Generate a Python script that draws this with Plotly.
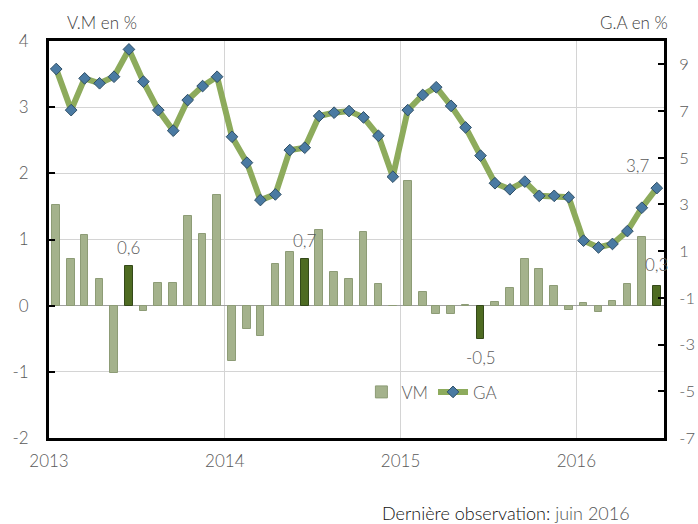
import pandas as pd
import plotly.graph_objects as go

# Monthly series, January 2013 to June 2016
months = pd.date_range("2013-01-01", periods=42, freq="MS") + pd.Timedelta(days=15)

# VM: monthly change (%), left axis
vm = [1.52, 0.70, 1.07, 0.40, -1.01, 0.6, -0.08, 0.35, 0.35, 1.36, 1.08, 1.68,
      -0.84, -0.36, -0.46, 0.63, 0.81, 0.7, 1.15, 0.51, 0.41, 1.12, 0.32, -0.01,
      1.88, 0.21, -0.13, -0.13, 0.01, -0.5, 0.05, 0.26, 0.70, 0.55, 0.29, -0.06,
      0.04, -0.10, 0.07, 0.32, 1.04, 0.3]

# GA: year-on-year change (%), right axis
ga = [8.80, 7.04, 8.40, 8.19, 8.47, 9.64, 8.26, 7.04, 6.16, 7.47, 8.07, 8.47,
      5.90, 4.79, 3.19, 3.43, 5.33, 5.43, 6.79, 6.93, 7.00, 6.73, 5.94, 4.19,
      7.04, 7.69, 8.02, 7.22, 6.30, 5.09, 3.91, 3.65, 3.98, 3.37, 3.37, 3.31,
      1.45, 1.16, 1.31, 1.86, 2.86, 3.7]

left_ticks = [-2, -1, 0, 1, 2, 3, 4]
right_ticks = [-7, -5, -3, -1, 1, 3, 5, 7, 9]
year_ticks = ["2013-01-01", "2014-01-01", "2015-01-01", "2016-01-01"]
year_labels = ["2013", "2014", "2015", "2016"]

LIGHT = "#a4b28c"
DARK = "#4e6b22"
LINE = "#8dab5c"
MARK = "#4a7aa2"
FONT = "Lato"
GREY = "#5a5a5a"

# June observations are highlighted
bar_colors = [DARK if d.month == 6 else LIGHT for d in months]
bar_edges = ["#34491a" if d.month == 6 else "#8d9c76" for d in months]


def fr(v):
    return f"{v:.1f}".replace(".", ",")


def lbl_font():
    return dict(size=17, color=GREY, family=FONT, weight=300)


fig = go.Figure()

fig.add_trace(go.Bar(
    x=months, y=vm, name="VM", yaxis="y",
    width=16 * 86400000,
    marker=dict(color=bar_colors, line=dict(color=bar_edges, width=1)),
))

fig.add_trace(go.Scatter(
    x=months, y=ga, name="GA", yaxis="y2", mode="lines+markers",
    line=dict(color=LINE, width=6),
    marker=dict(symbol="diamond", size=9, color=MARK,
                line=dict(color="#2f4f66", width=1)),
))

# Value labels on the June bars and the last GA point
annotations = []
june_idx = [i for i, d in enumerate(months) if d.month == 6]
for i in june_idx:
    v = vm[i]
    if i == len(months) - 1:
        annotations.append(dict(x=months[i], y=v, yref="y", text=fr(v),
                                showarrow=False, xshift=0, yshift=21,
                                font=lbl_font()))
    elif v >= 0:
        annotations.append(dict(x=months[i], y=v, yref="y", text=fr(v),
                                showarrow=False, yanchor="bottom", yshift=6,
                                font=lbl_font()))
    else:
        annotations.append(dict(x=months[i], y=v, yref="y", text=fr(v),
                                showarrow=False, yanchor="top", yshift=-6,
                                font=lbl_font()))

annotations.append(dict(x=months[-1], y=ga[-1], yref="y2", text=fr(ga[-1]),
                        showarrow=False, xshift=-19, yshift=23,
                        font=lbl_font()))

# Axis titles and footer
annotations += [
    dict(xref="paper", yref="paper", x=0.026, y=1.0, yshift=6, text="V.M en %",
         showarrow=False, xanchor="left", yanchor="bottom",
         font=dict(size=17, color="#404040", family=FONT, weight=300)),
    dict(xref="paper", yref="paper", x=1.01, y=1.0, yshift=6, text="G.A en %",
         showarrow=False, xanchor="right", yanchor="bottom",
         font=dict(size=17, color="#404040", family=FONT, weight=300)),
    dict(xref="paper", yref="paper", x=0.948, y=-0.19,
         text="<span style='color:#111111'>Dernière observation:</span> "
              "<span style='color:#555555'>juin 2016</span>",
         showarrow=False, xanchor="right", yanchor="middle",
         font=dict(size=18, family=FONT)),
]

fig.update_layout(
    width=698, height=524,
    margin=dict(l=49, r=34, t=41, b=86, autoexpand=False),
    paper_bgcolor="white", plot_bgcolor="white",
    font=dict(family=FONT, size=17, color=GREY, weight=300),
    showlegend=True,
    legend=dict(orientation="h", x=0.508, y=0.115, xanchor="left", yanchor="middle",
                bgcolor="rgba(0,0,0,0)", font=lbl_font(),
                itemwidth=30, tracegroupgap=0, traceorder="normal"),
    bargap=0,
    annotations=annotations,
    xaxis=dict(
        type="date", range=["2013-01-01", "2016-07-01"],
        tickvals=year_ticks, ticktext=year_labels, automargin=False,
        showgrid=True, gridcolor="#d4d4d4", gridwidth=1,
        showline=True, linecolor="black", linewidth=3, mirror=True,
        ticks="", ticklabelstandoff=6, zeroline=False,
    ),
    yaxis=dict(
        range=[-2, 4], tickvals=left_ticks, ticktext=[str(t) for t in left_ticks],
        automargin=False,
        showgrid=True, gridcolor="#d4d4d4", gridwidth=1,
        zeroline=True, zerolinecolor="#a0a0a0", zerolinewidth=1,
        showline=True, linecolor="black", linewidth=3,
        ticks="inside", ticklen=6, tickcolor="black", tickwidth=2,
        ticklabelstandoff=14,
    ),
    yaxis2=dict(
        range=[-7, 10], tickvals=right_ticks, ticktext=[str(t) for t in right_ticks],
        overlaying="y", side="right",
        automargin=False, showgrid=False, zeroline=False,
        showline=True, linecolor="black", linewidth=3,
        ticks="inside", ticklen=6, tickcolor="black", tickwidth=2,
        ticklabelstandoff=9, tickfont=dict(size=16.5),
    ),
)

fig.write_html("out.html")
